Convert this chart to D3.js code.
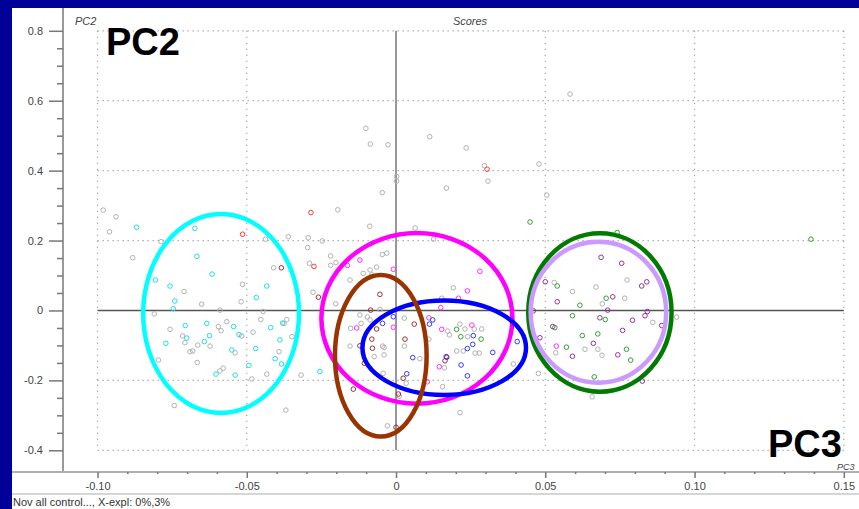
<!DOCTYPE html>
<html><head><meta charset="utf-8">
<script src="https://cdn.jsdelivr.net/npm/d3@7"></script>
<style>html,body{margin:0;padding:0;background:#000099;} svg{display:block}</style>
</head><body><svg id="c" width="859" height="509"></svg>
<script>
// ---- axis ticks ----
const xTicks = [-0.10, -0.05, 0, 0.05, 0.10, 0.15];
const xTickLabels = ["-0.10", "-0.05", "0", "0.05", "0.10", "0.15"];
const yTicks = [0.8, 0.6, 0.4, 0.2, 0, -0.2, -0.4];
const yTickLabels = ["0.8", "0.6", "0.4", "0.2", "0", "-0.2", "-0.4"];

// ---- score points [PC3, PC2] ----
const grayPoints = [
  [-0.0981,0.287],[-0.0938,0.268],[-0.0960,0.225],[-0.0787,0.197],[-0.0882,0.151],
  [-0.0437,0.204],[-0.0361,0.211],[-0.0294,0.208],[-0.0247,0.199],[-0.0296,0.180],
  [-0.0410,0.122],[-0.0290,0.135],[-0.0514,0.075],[-0.0710,0.054],[-0.0651,0.018],
  [-0.0519,0.025],[-0.0278,0.052],[-0.0810,-0.010],[-0.0590,0.001],[-0.0445,-0.003],
  [-0.0453,-0.026],[-0.0366,-0.026],[-0.0375,-0.037],[-0.0567,-0.032],[-0.0595,-0.046],
  [-0.0586,-0.058],[-0.0757,-0.054],[-0.0715,-0.073],[-0.0707,-0.092],[-0.0664,-0.099],
  [-0.0623,-0.102],[-0.0517,-0.073],[-0.0479,-0.062],[-0.0349,-0.075],[-0.0690,-0.118],
  [-0.0681,-0.116],[-0.0539,-0.121],[-0.0392,-0.118],[-0.0796,-0.142],[-0.0666,-0.149],
  [-0.0579,-0.165],[-0.0590,-0.173],[-0.0433,-0.182],[-0.0483,-0.196],[-0.0318,-0.185],
  [-0.0743,-0.272],[-0.0369,-0.285],
  [-0.0101,0.521],[-0.0086,0.476],[-0.0027,0.474],[0.0113,0.497],[0.0235,0.465],
  [0.0296,0.414],[0.0308,0.370],[0.0479,0.419],[0.0505,0.330],[0.0002,0.383],
  [0.0002,0.370],[0.0169,0.350],[-0.0046,0.337],[-0.0195,0.288],[-0.0088,0.241],
  [0.0064,0.236],[0.0126,0.204],[-0.0219,0.156],[-0.0046,0.160],[-0.0031,0.164],
  [0.0583,0.619],
  [-0.0201,0.137],[-0.0219,0.129],[-0.0202,0.019],[-0.0154,0.087],[-0.0110,0.106],
  [-0.0087,0.116],[-0.0065,0.124],[-0.0081,0.102],[-0.0121,-0.013],[-0.0096,-0.019],
  [-0.0087,-0.027],[-0.0117,-0.037],[-0.0152,-0.051],[-0.0054,0.003],[0.0028,-0.022],
  [-0.0154,-0.102],[-0.0045,-0.102],[-0.0040,-0.106],[-0.0073,-0.132],[-0.0040,-0.127],
  [0.0028,-0.102],[0.0080,-0.138],[0.0110,-0.082],[0.0192,0.065],[0.0153,0.035],
  [0.0214,-0.039],[0.0231,-0.053],[0.0173,-0.059],[0.0179,-0.070],[0.0240,-0.075],
  [0.0262,-0.053],[0.0287,-0.053],[0.0203,-0.116],[0.0225,-0.116],[0.0265,-0.122],
  [0.0279,-0.122],[0.0162,-0.164],[0.0156,-0.218],[0.0393,-0.153],[0.0477,-0.180],
  [0.0034,-0.208],[0.0011,-0.245],[0.0214,-0.292],[-0.0029,-0.330],[-0.0043,-0.180],
  [0.0530,0.080],[0.0591,0.054],[0.0670,0.067],[0.0774,0.087],[0.0766,0.035],
  [0.0691,0.019],[0.0860,-0.034],[0.0940,-0.019],[0.0535,-0.121],[0.0633,-0.111],
  [0.0676,-0.111],[0.0690,-0.128],[0.0657,-0.247]
];
const redPoints = [[-0.0285,0.280],[-0.0514,0.218],[-0.0275,0.126],[0.0305,0.404]];
const brownPoints = [
  [-0.0384,0.122],[-0.0260,0.038],[-0.0054,0.046],[-0.0085,0.001],[-0.0065,-0.053],
  [-0.0081,-0.082],[-0.0079,-0.108],[-0.0121,-0.101],[-0.0106,-0.151],[0.0030,-0.082],
  [0.0061,-0.039],[0.0168,-0.132],[0.0164,-0.144],[0.0024,-0.194],[-0.0143,-0.225],
  [0.0008,-0.239],[0.0000,-0.334]
];
const cyanPoints = [
  [-0.0869,0.238],[-0.0674,0.235],[-0.0667,0.155],[-0.0616,0.104],[-0.0806,0.087],
  [-0.0757,0.070],[-0.0741,0.027],[-0.0746,0.005],[-0.0433,0.070],[-0.0468,0.037],
  [-0.0706,-0.043],[-0.0634,-0.037],[-0.0544,-0.046],[-0.0380,-0.036],[-0.0420,-0.049],
  [-0.0625,-0.072],[-0.0526,-0.069],[-0.0701,-0.079],[-0.0642,-0.089],[-0.0771,-0.094],
  [-0.0389,-0.084],[-0.0470,-0.109],[-0.0550,-0.113],[-0.0405,-0.138],[-0.0384,-0.153],
  [-0.0493,-0.157],[-0.0603,-0.182],[-0.0539,-0.185],[-0.0255,-0.175]
];
const magentaPoints = [
  [-0.0121,0.144],[-0.0163,0.129],[-0.0009,0.118],[0.0281,0.112],[0.0239,0.056],
  [0.0209,0.035],[0.0150,0.008],[0.0110,-0.021],[-0.0009,-0.048],[-0.0132,-0.050],
  [0.0153,-0.054],[0.0254,-0.042],[0.0145,-0.161],[0.0105,-0.204],[0.0537,-0.102]
];
const bluePoints = [
  [-0.0045,-0.037],[-0.0009,-0.018],[0.0123,-0.027],[0.0112,-0.039],[0.0259,-0.072],
  [0.0257,-0.097],[0.0239,-0.109],[0.0324,-0.120],[0.0406,-0.089],[0.0056,-0.135],
  [0.0170,-0.134],[0.0218,-0.156],[0.0036,-0.181],[0.0239,-0.187]
];
const greenPoints = [
  [0.0449,0.253],[0.1390,0.204],[0.0741,0.223],[0.0540,0.070],[0.0704,0.035],
  [0.0616,0.015],[0.0591,-0.015],[0.0701,-0.026],[0.0532,-0.049],[0.0624,-0.072],
  [0.0676,-0.067],[0.0571,-0.105],[0.0772,-0.111],[0.0786,-0.142],[0.0664,-0.190],
  [0.0203,-0.054],[0.0217,-0.075],[0.0285,-0.082]
];
const purplePoints = [
  [0.0687,0.152],[0.0756,0.135],[0.0500,0.082],[0.0840,0.082],[0.0823,0.070],
  [0.0540,0.025],[0.0726,0.039],[0.0709,0.001],[0.0842,-0.003],[0.0834,-0.015],
  [0.0683,-0.021],[0.0792,-0.028],[0.0525,-0.046],[0.0890,-0.043],[0.0759,-0.057],
  [0.0482,-0.078],[0.0661,-0.094],[0.0591,-0.131],[0.0743,-0.127],[0.0825,-0.202],
  [0.0460,-0.001]
];

// ---- group ellipses: [centerX, centerY, radiusX, radiusY] in score units ----
const cyanEllipse = [-0.0586, -0.0086, 0.0261, 0.2846];
const magentaEllipse = [0.0070, -0.0225, 0.0320, 0.2440];
const blueEllipse = [0.01615, -0.1067, 0.0274, 0.1350];
const brownEllipse = [-0.0051, -0.1296, 0.01535, 0.2312];
const greenEllipse = [0.0683, -0.0057, 0.0240, 0.2265];
const lavenderEllipse = [0.0678, -0.0049, 0.0227, 0.2017];

const svg = d3.select("#c");
const W = 859, H = 509;
svg.append("rect").attr("width", W).attr("height", H).attr("fill", "#000099");
svg.append("rect").attr("x", 12).attr("y", 8).attr("width", W - 12).attr("height", H - 8).attr("fill", "#ffffff");

const x = d3.scaleLinear().domain([-0.10, 0.15]).range([97.5, 843.8]);
const y = d3.scaleLinear().domain([-0.4, 0.8]).range([450.3, 30.8]);
const font = "'Liberation Sans', Arial, sans-serif";

// grid
const grid = svg.append("g");
xTicks.filter(v => v !== 0).forEach(v => {
  grid.append("line").attr("x1", x(v)).attr("x2", x(v)).attr("y1", y(0.8)).attr("y2", y(-0.4))
    .attr("stroke", "#a4a4a4").attr("stroke-width", 1.2).attr("stroke-dasharray", "1.3,4.7");
});
yTicks.filter(v => v !== 0).forEach(v => {
  grid.append("line").attr("x1", x(-0.10)).attr("x2", x(0.15)).attr("y1", y(v)).attr("y2", y(v))
    .attr("stroke", "#a4a4a4").attr("stroke-width", 1.2).attr("stroke-dasharray", "1.3,3.7");
});
grid.append("line").attr("x1", x(-0.10)).attr("x2", x(0.15)).attr("y1", y(0)).attr("y2", y(0))
  .attr("stroke", "#555").attr("stroke-width", 1.5);
grid.append("line").attr("x1", x(0)).attr("x2", x(0)).attr("y1", y(0.8)).attr("y2", y(-0.4))
  .attr("stroke", "#777").attr("stroke-width", 1.5);

// y axis
const yMinor = d3.range(-0.4, 0.8001, 0.05).filter(v => Math.abs(Math.round(v * 5) - v * 5) > 1e-6);
const yAx = svg.append("g").attr("transform", "translate(63,0)")
  .call(d3.axisLeft(y).tickValues(yTicks).tickSize(14).tickPadding(6).tickFormat((d, i) => yTickLabels[i]));
const yAxMin = svg.append("g").attr("transform", "translate(63,0)")
  .call(d3.axisLeft(y).tickValues(yMinor).tickSize(6).tickFormat(""));
svg.append("line").attr("x1", 63).attr("x2", 63).attr("y1", 8).attr("y2", 472).attr("stroke", "#777").attr("stroke-width", 1.5);

// x axis
const xMinor = d3.range(-0.10, 0.1501, 0.01).filter(v => Math.abs(Math.round(v * 20) - v * 20) > 1e-6);
svg.append("line").attr("x1", 12).attr("x2", W).attr("y1", 472).attr("y2", 472).attr("stroke", "#b0b0b0").attr("stroke-width", 2);
const xAx = svg.append("g").attr("transform", "translate(0,472)")
  .call(d3.axisBottom(x).tickValues(xTicks).tickSize(6).tickPadding(4).tickFormat((d, i) => xTickLabels[i]));
const xAxMin = svg.append("g").attr("transform", "translate(0,472)")
  .call(d3.axisBottom(x).tickValues(xMinor).tickSize(2).tickFormat(""));

[yAx, yAxMin, xAx, xAxMin].forEach(g => {
  g.select(".domain").remove();
  g.selectAll(".tick line").attr("stroke", "#777").attr("stroke-width", 1.5);
  g.selectAll(".tick text").attr("fill", "#444").style("font-family", font).style("font-size", "11px");
});

// bottom status
svg.append("line").attr("x1", 12).attr("x2", W).attr("y1", 494).attr("y2", 494).attr("stroke", "#c8c8c8").attr("stroke-width", 1.5);
svg.append("text").attr("x", 13).attr("y", 506).text("Nov all control..., X-expl: 0%,3%")
  .attr("fill", "#333").style("font-family", font).style("font-size", "11px");

// points
const series = [
  [grayPoints, "#b2b2b2"], [redPoints, "#ff3a3a"], [brownPoints, "#993333"],
  [cyanPoints, "#22dde8"], [magentaPoints, "#ff30ff"], [bluePoints, "#3838ff"],
  [greenPoints, "#33a033"], [purplePoints, "#993399"]
];
const pts = svg.append("g");
series.forEach(([data, col]) => {
  pts.selectAll(null).data(data).enter().append("circle")
    .attr("cx", d => x(d[0])).attr("cy", d => y(d[1])).attr("r", 2.3)
    .attr("fill", "none").attr("stroke", col).attr("stroke-width", 1);
});

// ellipses
const ells = [
  [cyanEllipse, "#00ffff"], [greenEllipse, "#007a00"], [lavenderEllipse, "#cc99ff"],
  [magentaEllipse, "#ff00ff"], [blueEllipse, "#0000ff"], [brownEllipse, "#993300"]
];
svg.append("g").selectAll("ellipse").data(ells).enter().append("ellipse")
  .attr("cx", d => x(d[0][0])).attr("cy", d => y(d[0][1]))
  .attr("rx", d => x(d[0][2]) - x(0)).attr("ry", d => y(0) - y(d[0][3]))
  .attr("fill", "none").attr("stroke", d => d[1]).attr("stroke-width", 4.5);

// labels
svg.append("text").attr("x", 470).attr("y", 25).attr("text-anchor", "middle").text("Scores")
  .attr("fill", "#444").style("font-family", font).style("font-size", "11px").style("font-style", "italic");
svg.append("text").attr("x", 75).attr("y", 25).text("PC2")
  .attr("fill", "#444").style("font-family", font).style("font-size", "11px").style("font-style", "italic");
svg.append("text").attr("x", 837).attr("y", 470).text("PC3")
  .attr("fill", "#444").style("font-family", font).style("font-size", "9px").style("font-style", "italic");
svg.append("text").attr("x", 106).attr("y", 55).text("PC2")
  .attr("fill", "#000").style("font-family", font).style("font-size", "38px").style("font-weight", "bold");
svg.append("text").attr("x", 768).attr("y", 457).text("PC3")
  .attr("fill", "#000").style("font-family", font).style("font-size", "38px").style("font-weight", "bold");
</script></body></html>
